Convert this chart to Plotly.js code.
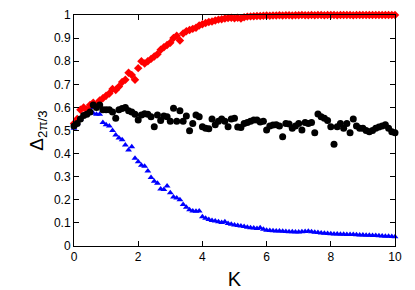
<!DOCTYPE html>
<html>
<head>
<meta charset="utf-8">
<script src="https://cdn.plot.ly/plotly-3.0.1.min.js"></script>
<style>html,body{margin:0;padding:0;background:#fff;}#chart{width:415px;height:290px;}</style>
</head>
<body>
<div id="chart"></div>
<script>
const K = [0,0.1,0.2,0.3,0.4,0.5,0.6,0.7,0.8,0.9,1,1.1,1.2,1.3,1.4,1.5,1.6,1.7,1.8,1.9,2,2.1,2.2,2.3,2.4,2.5,2.6,2.7,2.8,2.9,3,3.1,3.2,3.3,3.4,3.5,3.6,3.7,3.8,3.9,4,4.1,4.2,4.3,4.4,4.5,4.6,4.7,4.8,4.9,5,5.1,5.2,5.3,5.4,5.5,5.6,5.7,5.8,5.9,6,6.1,6.2,6.3,6.4,6.5,6.6,6.7,6.8,6.9,7,7.1,7.2,7.3,7.4,7.5,7.6,7.7,7.8,7.9,8,8.1,8.2,8.3,8.4,8.5,8.6,8.7,8.8,8.9,9,9.1,9.2,9.3,9.4,9.5,9.6,9.7,9.8,9.9,10];

const redSeries = [0.53,0.55,0.59,0.60,0.59,0.61,0.62,0.61,0.63,0.64,0.65,0.66,0.68,0.675,0.69,0.71,0.72,0.75,0.74,0.72,0.77,0.80,0.79,0.80,0.81,0.82,0.83,0.85,0.86,0.87,0.88,0.90,0.91,0.89,0.92,0.93,0.935,0.94,0.945,0.955,0.96,0.965,0.97,0.972,0.976,0.98,0.982,0.985,0.987,0.988,0.986,0.988,0.985,0.99,0.993,0.994,0.995,0.996,0.996,0.997,0.998,0.997,0.998,0.998,0.999,0.998,0.999,0.999,0.998,0.999,0.999,1.0,0.999,0.999,1.0,0.999,1.0,1.0,0.999,1.0,1.0,1.0,0.999,1.0,1.0,1.0,1.0,0.999,1.0,1.0,1.0,1.0,1.0,1.0,1.0,1.0,1.0,1.0,1.0,1.0,1.0];

const blackSeries = [0.52,0.53,0.55,0.565,0.57,0.58,0.61,0.60,0.61,0.59,0.59,0.59,0.58,0.553,0.59,0.595,0.60,0.585,0.58,0.57,0.545,0.567,0.572,0.57,0.56,0.516,0.567,0.543,0.563,0.56,0.54,0.596,0.54,0.585,0.54,0.563,0.499,0.53,0.567,0.56,0.516,0.51,0.508,0.55,0.525,0.54,0.55,0.54,0.516,0.55,0.553,0.515,0.513,0.53,0.535,0.54,0.545,0.545,0.537,0.54,0.502,0.52,0.524,0.525,0.52,0.473,0.53,0.528,0.51,0.52,0.53,0.502,0.535,0.53,0.535,0.49,0.571,0.56,0.553,0.543,0.516,0.44,0.516,0.53,0.51,0.53,0.49,0.55,0.52,0.51,0.51,0.50,0.495,0.50,0.51,0.515,0.52,0.525,0.51,0.495,0.49];

const blueSeries = [0.51,0.53,0.55,0.565,0.58,0.60,0.575,0.57,0.57,0.535,0.525,0.52,0.50,0.48,0.467,0.46,0.437,0.416,0.43,0.38,0.365,0.35,0.345,0.325,0.297,0.28,0.272,0.247,0.245,0.26,0.23,0.212,0.208,0.20,0.18,0.168,0.157,0.152,0.15,0.152,0.127,0.12,0.115,0.11,0.108,0.105,0.102,0.105,0.097,0.094,0.091,0.089,0.087,0.084,0.081,0.079,0.078,0.076,0.079,0.072,0.068,0.067,0.066,0.065,0.065,0.064,0.063,0.062,0.062,0.061,0.061,0.062,0.063,0.064,0.062,0.06,0.058,0.056,0.055,0.054,0.053,0.052,0.052,0.051,0.051,0.05,0.05,0.05,0.049,0.048,0.048,0.047,0.046,0.045,0.045,0.044,0.043,0.042,0.042,0.041,0.04];

const xTicks = [0,2,4,6,8,10];
const yTicks = [0,0.1,0.2,0.3,0.4,0.5,0.6,0.7,0.8,0.9,1];

const traces = [
  {x: K, y: blueSeries, mode: 'markers', type: 'scatter', cliponaxis: false,
   marker: {symbol: 'triangle-up', size: 6, color: '#0000ff'}},
  {x: K, y: redSeries, mode: 'markers', type: 'scatter', cliponaxis: false,
   marker: {symbol: 'diamond', size: 6.5, color: '#ff0000'}},
  {x: K, y: blackSeries, mode: 'markers', type: 'scatter', cliponaxis: false,
   marker: {symbol: 'circle', size: 7, color: '#000000'}}
];

const axisCommon = {
  showline: true, linecolor: '#000', linewidth: 1, mirror: 'ticks',
  ticks: 'inside', ticklen: 5, tickcolor: '#000', tickwidth: 1,
  showgrid: false, zeroline: false,
  tickfont: {family: 'Liberation Sans, Arial, sans-serif', size: 12, color: '#000'}
};

const layout = {
  width: 415, height: 290,
  margin: {l: 74, r: 20, t: 15, b: 44},
  paper_bgcolor: '#fff', plot_bgcolor: '#fff',
  showlegend: false,
  xaxis: Object.assign({}, axisCommon, {
    range: [0, 10], tickvals: xTicks, ticktext: xTicks.map(String),
    title: {text: 'K', font: {family: 'Liberation Sans, Arial, sans-serif', size: 20, color: '#000'}, standoff: 11}
  }),
  yaxis: Object.assign({}, axisCommon, {
    range: [0, 1], tickvals: yTicks, ticktext: yTicks.map(String),
    title: {text: 'Δ<sub>2π/3</sub>', font: {family: 'Liberation Sans, Arial, sans-serif', size: 19, color: '#000'}, standoff: 5}
  })
};

Plotly.newPlot('chart', traces, layout, {displayModeBar: false, staticPlot: true});
</script>
</body>
</html>
